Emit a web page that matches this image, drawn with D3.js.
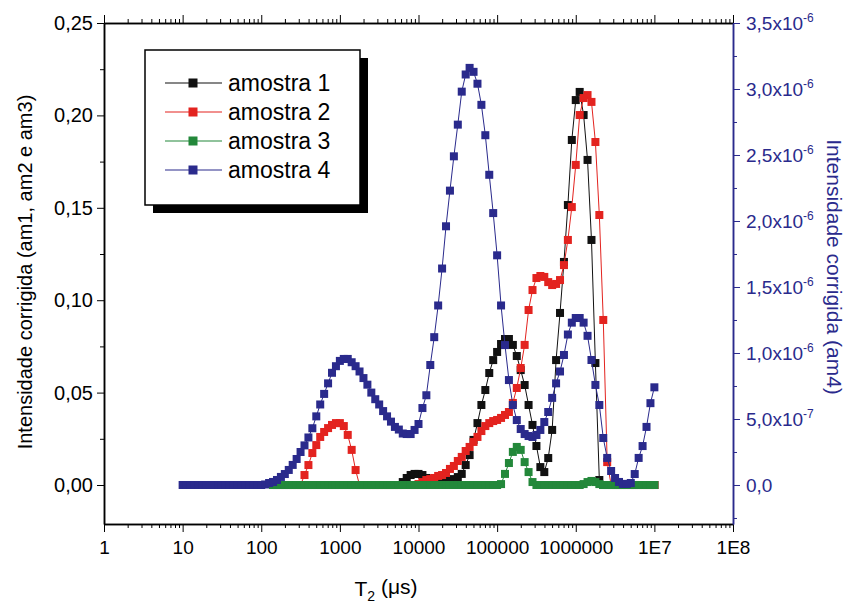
<!DOCTYPE html>
<html>
<head>
<meta charset="utf-8">
<script src="https://cdn.jsdelivr.net/npm/d3@7/dist/d3.min.js"></script>
<style>
  body { margin: 0; background: #fff; }
  svg { font-family: "Liberation Sans", Arial, sans-serif; }
</style>
</head>
<body>
<div id="chart"></div>
<script>
// log10(T2) grid (points are spaced evenly on the log axis)
var logT2 = [
  1.00, 1.05, 1.10, 1.15, 1.20, 1.25, 1.30, 1.35, 1.40, 1.45,
  1.50, 1.55, 1.60, 1.65, 1.70, 1.75, 1.80, 1.85, 1.90, 1.95,
  2.00, 2.05, 2.10, 2.15, 2.20, 2.25, 2.30, 2.35, 2.40, 2.45,
  2.50, 2.55, 2.60, 2.65, 2.70, 2.75, 2.80, 2.85, 2.90, 2.95,
  3.00, 3.05, 3.10, 3.15, 3.20, 3.25, 3.30, 3.35, 3.40, 3.45,
  3.50, 3.55, 3.60, 3.65, 3.70, 3.75, 3.80, 3.85, 3.90, 3.95,
  4.00, 4.05, 4.10, 4.15, 4.20, 4.25, 4.30, 4.35, 4.40, 4.45,
  4.50, 4.55, 4.60, 4.65, 4.70, 4.75, 4.80, 4.85, 4.90, 4.95,
  5.00, 5.05, 5.10, 5.15, 5.20, 5.25, 5.30, 5.35, 5.40, 5.45,
  5.50, 5.55, 5.60, 5.65, 5.70, 5.75, 5.80, 5.85, 5.90, 5.95,
  6.00, 6.05, 6.10, 6.15, 6.20, 6.25, 6.30, 6.35, 6.40, 6.45,
  6.50, 6.55, 6.60, 6.65, 6.70, 6.75, 6.80, 6.85, 6.90, 6.95,
  7.00
];

// amostra 1, 2, 3 : left axis
var am1 = [
  null, null, null, null, null, null, null, null, null, null,
  null, null, null, null, null, null, null, null, null, null,
  null, null, null, 0, 0, 0, 0, 0, 0, 0,
  0, 0, 0, 0, 0, 0, 0, 0, 0, 0,
  0, 0, 0, 0, 0, 0, 0, 0, 0, 0,
  0, 0, 0, 0, 0, 0, 0.0016, 0.0038, 0.0054, 0.006,
  0.006, 0.0054, 0.0038, 0.0022, 0.0005, 0.0005, 0.0011, 0.0016, 0.0022, 0.0032,
  0.0043, 0.006, 0.0108, 0.0162, 0.0244, 0.0335, 0.0433, 0.0514, 0.0606, 0.0676,
  0.072, 0.0763, 0.079, 0.079, 0.0758, 0.0698, 0.0622, 0.0541, 0.0433, 0.0325,
  0.0211, 0.0097, 0.007, 0.0146, 0.0298, 0.0676, 0.0931, 0.1207, 0.1515, 0.1867,
  0.2083, 0.2127, 0.2002, 0.1759, 0.1326, 0.066, 0.0027, 0, 0, 0,
  0, 0, 0, 0, 0, 0, 0, 0, 0, 0,
  0
];
var am2 = [
  null, null, null, null, null, null, null, null, null, null,
  null, null, null, null, null, null, null, null, null, null,
  null, null, null, 0, 0, 0, 0, 0, 0, 0,
  0, 0.0054, 0.0108, 0.0173, 0.0216, 0.026, 0.0287, 0.0308, 0.0325, 0.0335,
  0.0335, 0.0319, 0.0271, 0.019, 0.0081, 0, 0, 0, 0, 0,
  0, 0, 0, 0, 0, 0, 0, 0, 0, 0,
  0.0005, 0.0016, 0.0027, 0.0032, 0.0038, 0.0049, 0.0054, 0.0065, 0.0087, 0.0103,
  0.013, 0.0152, 0.0184, 0.0206, 0.0233, 0.026, 0.0292, 0.0319, 0.0335, 0.0346,
  0.0352, 0.0363, 0.0379, 0.0395, 0.0444, 0.0525, 0.0633, 0.0758, 0.0947, 0.1055,
  0.112, 0.1131, 0.1126, 0.1098, 0.1082, 0.1088, 0.1109, 0.119, 0.1326, 0.1504,
  0.1732, 0.2002, 0.2094, 0.211, 0.2073, 0.1856, 0.1461, 0.0893, 0.0124, 0,
  0, 0, 0, 0, 0, 0, 0, 0, 0, 0,
  0
];
var am3 = [
  null, null, null, null, null, null, null, null, null, null,
  null, null, null, null, null, null, null, null, null, null,
  null, null, null, 0, 0, 0, 0, 0, 0, 0,
  0, 0, 0, 0, 0, 0, 0, 0, 0, 0,
  0, 0, 0, 0, 0, 0, 0, 0, 0, 0,
  0, 0, 0, 0, 0, 0, 0, 0, 0, 0,
  0, 0, 0, 0, 0, 0, 0, 0, 0, 0,
  0, 0, 0, 0, 0, 0, 0, 0, 0, 0,
  0, 0.0005, 0.006, 0.0119, 0.0179, 0.0206, 0.019, 0.0124, 0.007, 0.0016,
  0, 0, 0, 0, 0, 0, 0, 0, 0, 0,
  0, 0, 0.0005, 0.0016, 0.0022, 0.0016, 0.0005, 0, 0, 0,
  0, 0, 0, 0, 0, 0, 0, 0, 0, 0,
  0
];
// amostra 4 : right axis, in units of 1e-6
var am4 = [
  0, 0, 0, 0, 0, 0, 0, 0, 0, 0,
  0, 0, 0, 0, 0, 0, 0, 0, 0, 0,
  0, 0.004, 0.015, 0.023, 0.038, 0.061, 0.083, 0.114, 0.152, 0.197,
  0.25, 0.30, 0.36, 0.43, 0.52, 0.61, 0.69, 0.77, 0.85, 0.90,
  0.94, 0.955, 0.955, 0.93, 0.90, 0.86, 0.81, 0.76, 0.70, 0.65,
  0.61, 0.56, 0.52, 0.48, 0.44, 0.42, 0.39, 0.386, 0.386, 0.417,
  0.462, 0.583, 0.68, 0.909, 1.12, 1.36, 1.64, 1.96, 2.23, 2.49,
  2.73, 2.98, 3.11, 3.16, 3.13, 3.04, 2.88, 2.65, 2.35, 2.06,
  1.74, 1.36, 1.06, 0.795, 0.606, 0.492, 0.424, 0.386, 0.371, 0.364,
  0.379, 0.417, 0.477, 0.553, 0.66, 0.77, 0.86, 0.985, 1.14, 1.23,
  1.265, 1.265, 1.23, 1.13, 0.947, 0.758, 0.606, 0.356, 0.205, 0.106,
  0.053, 0.023, 0.008, 0.008, 0.015, 0.083, 0.205, 0.295, 0.44, 0.62,
  0.74
];

var seriesNames = ["amostra 1", "amostra 2", "amostra 3", "amostra 4"];
var seriesColors = ["#111111", "#e3231f", "#23883a", "#2a2a8c"];

var xTickValues = [1, 10, 100, 1000, 10000, 100000, 1000000, 1e7, 1e8];
var xTickLabels = ["1", "10", "100", "1000", "10000", "100000", "1000000", "1E7", "1E8"];
var leftTickValues = [0, 0.05, 0.10, 0.15, 0.20, 0.25];
var leftTickLabels = ["0,00", "0,05", "0,10", "0,15", "0,20", "0,25"];
var rightTickValues = [0, 0.5, 1.0, 1.5, 2.0, 2.5, 3.0, 3.5];
var rightTickMant = ["0,0", "5,0x10", "1,0x10", "1,5x10", "2,0x10", "2,5x10", "3,0x10", "3,5x10"];
var rightTickExp = ["", "-7", "-6", "-6", "-6", "-6", "-6", "-6"];

var svgWidth = 859;
var svgHeight = 613;

var margin = { top: 23, right: 126, bottom: 89, left: 104 };
var width = svgWidth - margin.left - margin.right;
var height = svgHeight - margin.top - margin.bottom;

var svg = d3.select("#chart")
  .append("svg")
  .attr("width", svgWidth)
  .attr("height", svgHeight);

var chartGroup = svg.append("g")
  .attr("transform", `translate(${margin.left}, ${margin.top})`);

// scales
var xScale = d3.scaleLog().domain([1, 1e8]).range([0, width]);
var yLeft = d3.scaleLinear().domain([-0.0211, 0.25]).range([height, 0]);
var yRight = d3.scaleLinear().domain([-0.2955, 3.5]).range([height, 0]);

var navy = "#2a2a8c";

// minor tick values for the log axis
var xMinor = [];
xTickValues.slice(0, -1).forEach(function(d) {
  for (var k = 2; k <= 9; k++) xMinor.push(d * k);
});

// bottom axis
chartGroup.append("g")
  .attr("transform", `translate(0, ${height})`)
  .call(d3.axisBottom(xScale).tickValues(xMinor).tickSize(4).tickSizeOuter(0).tickFormat(""));
var bottomAxis = chartGroup.append("g")
  .attr("transform", `translate(0, ${height})`)
  .call(d3.axisBottom(xScale).tickValues(xTickValues).tickSize(8).tickSizeOuter(0)
    .tickPadding(9).tickFormat((d, i) => xTickLabels[i]));
bottomAxis.selectAll("text").attr("font-size", "19px");

// top axis (mirror ticks)
chartGroup.append("g")
  .call(d3.axisTop(xScale).tickValues(xMinor).tickSize(4).tickSizeOuter(0).tickFormat(""));
chartGroup.append("g")
  .call(d3.axisTop(xScale).tickValues(xTickValues).tickSize(8).tickSizeOuter(0).tickFormat(""));

// left axis
chartGroup.append("g")
  .call(d3.axisLeft(yLeft).tickValues([0.025, 0.075, 0.125, 0.175, 0.225]).tickSize(4).tickSizeOuter(0).tickFormat(""));
var leftAxis = chartGroup.append("g")
  .call(d3.axisLeft(yLeft).tickValues(leftTickValues).tickSize(7).tickSizeOuter(0)
    .tickPadding(4).tickFormat((d, i) => leftTickLabels[i]));
leftAxis.selectAll("text").attr("font-size", "20px");

// right axis
var rightMinor = chartGroup.append("g")
  .attr("transform", `translate(${width}, 0)`)
  .call(d3.axisRight(yRight).tickValues([-0.25, 0.25, 0.75, 1.25, 1.75, 2.25, 2.75, 3.25]).tickSize(4).tickSizeOuter(0).tickFormat(""));
var rightAxis = chartGroup.append("g")
  .attr("transform", `translate(${width}, 0)`)
  .call(d3.axisRight(yRight).tickValues(rightTickValues).tickSize(7).tickSizeOuter(0)
    .tickPadding(6).tickFormat(""));
rightMinor.selectAll("path, line").attr("stroke", navy);
rightAxis.selectAll("path, line").attr("stroke", navy);
rightAxis.selectAll("text").each(function(d, i) {
  var t = d3.select(this).attr("font-size", "19px").attr("fill", navy);
  t.append("tspan").text(rightTickMant[i]);
  if (rightTickExp[i]) {
    t.append("tspan").attr("font-size", "12px").attr("dy", "-0.65em").text(rightTickExp[i]);
  }
});

chartGroup.selectAll(".domain").attr("stroke-width", 1.5);

// series
var allSeries = [am1, am2, am3, am4];
allSeries.forEach(function(vals, s) {
  var y = s === 3 ? yRight : yLeft;
  var pts = logT2.map((L, i) => ({ t: Math.pow(10, L), v: vals[i] }))
    .filter(d => d.v !== null);

  var line = d3.line()
    .x(d => xScale(d.t))
    .y(d => y(d.v));

  chartGroup.append("path")
    .datum(pts)
    .attr("d", line)
    .attr("fill", "none")
    .attr("stroke", seriesColors[s])
    .attr("stroke-width", 1);

  chartGroup.append("g").selectAll("rect")
    .data(pts)
    .enter()
    .append("rect")
    .attr("x", d => xScale(d.t) - 4)
    .attr("y", d => y(d.v) - 4)
    .attr("width", 8)
    .attr("height", 8)
    .attr("fill", seriesColors[s]);
});

// legend
var legend = svg.append("g").attr("transform", "translate(145, 50)");
legend.append("rect")
  .attr("x", 8).attr("y", 8)
  .attr("width", 215).attr("height", 155)
  .attr("fill", "#000");
legend.append("rect")
  .attr("width", 215).attr("height", 155)
  .attr("fill", "#fff")
  .attr("stroke", "#000")
  .attr("stroke-width", 1.5);
seriesNames.forEach(function(name, i) {
  var yy = 33 + i * 29;
  legend.append("line")
    .attr("x1", 20).attr("x2", 77)
    .attr("y1", yy).attr("y2", yy)
    .attr("stroke", seriesColors[i])
    .attr("stroke-width", 1.2);
  legend.append("rect")
    .attr("x", 43.5).attr("y", yy - 4.5)
    .attr("width", 9).attr("height", 9)
    .attr("fill", seriesColors[i]);
  legend.append("text")
    .attr("x", 83).attr("y", yy + 8)
    .attr("font-size", "23px")
    .text(name);
});

// axis titles
svg.append("text")
  .attr("transform", "translate(32, 272) rotate(-90)")
  .attr("text-anchor", "middle")
  .attr("font-size", "20px")
  .text("Intensidade corrigida (am1, am2 e am3)");

svg.append("text")
  .attr("transform", "translate(827, 267) rotate(90)")
  .attr("text-anchor", "middle")
  .attr("font-size", "21px")
  .attr("fill", navy)
  .text("Intensidade corrigida (am4)");

var xTitle = svg.append("text")
  .attr("x", 386).attr("y", 596)
  .attr("text-anchor", "middle")
  .attr("font-size", "21px");
xTitle.append("tspan").text("T");
xTitle.append("tspan").attr("font-size", "14px").attr("dy", "0.35em").text("2");
xTitle.append("tspan").attr("dy", "-0.35em").text(" (\u03bcs)");
</script>
</body>
</html>
